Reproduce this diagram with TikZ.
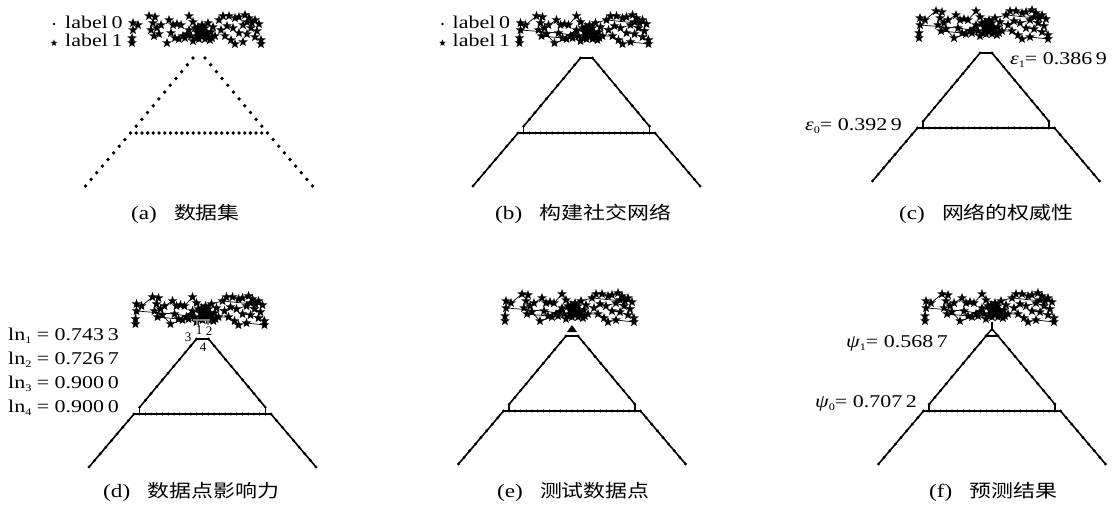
\documentclass[tikz,border=0pt]{standalone}
\usepackage{fontspec}
\setmainfont{Liberation Serif}
\newfontfamily\cjk{Noto Sans CJK SC}
\usepackage{graphicx}
\usetikzlibrary{calc}
\newcommand\hs[1]{\scalebox{1.22}[1]{#1}}
\newcommand\sbs[1]{\raisebox{-0.4ex}{\fontsize{10}{10}\selectfont #1}}
\newcommand\capt[2]{\hs{{\fontsize{19}{19}\selectfont(#1)}\hspace{14pt}{\cjk #2}}}
\newcommand\starpts{(-66,-35),(-66,-28),(-67,-20),(-67,-15),(-61,-33),
(-50,-42),(-44,-41),(-46,-35),(-42,-30),(-48,-28),(-38,-33),(-40,-24),(-45,-22),
(-30,-38),(-26,-33),(-22,-34),(-18,-33),(-28,-25),(-20,-19),(-32,-15),(-24,-20),
(-10,-42),(-6,-36),(-4,-30),(-2,-26),(0,-24),(2,-22),(4,-27),(6,-30),(8,-24),(10,-21),(-8,-22),(-12,-24),(-14,-20),(-16,-22),(0,-19),(6,-19),(12,-26),(14,-31),(3,-33),(9,-35),(-3,-20),(11,-18),(-6,-17),(16,-22),(2,-28),(-1,-31),(5,-23),(7,-26),(-10,-28),(13,-20),
(20,-38),(24,-42),(30,-42),(36,-40),(28,-32),(22,-28),(34,-30),(26,-22),(32,-18),(40,-41),(46,-43),(50,-40),(56,-38),(60,-34),(44,-33),(52,-30),(58,-27),(48,-24),(40,-25),(56,-21),(62,-18),(44,-16),(36,-14),(62,-14),(53,-35),(48,-36)}
\newcommand\starEdges{%
 \draw[sedge] (-66,-35)--(-66,-28)--(-67,-20)--(-67,-15);
 \draw[sedge] (-66,-28)--(-28,-25)--(-8,-22)--(0,-24);
 \draw[sedge] (-61,-33)--(-50,-42)--(-44,-41)--(-46,-35)--(-42,-30)--(-38,-33)--(-30,-38)--(-26,-33)--(-22,-34)--(-18,-33)--(-10,-42)--(-6,-36)--(3,-33)--(9,-35)--(20,-38)--(24,-42)--(30,-42)--(36,-40)--(40,-41)--(46,-43)--(50,-40)--(56,-38)--(60,-34);
 \draw[sedge] (-48,-28)--(-40,-24)--(-32,-15)--(-20,-19)--(-14,-20)--(-6,-17)--(0,-19)--(6,-19)--(11,-18)--(16,-22)--(26,-22)--(32,-18)--(36,-14)--(44,-16)--(62,-14);
 \draw[sedge] (-16,-22)--(-12,-24)--(-4,-30)--(-2,-26)--(2,-22)--(4,-27)--(6,-30)--(8,-24)--(10,-21)--(12,-26)--(14,-31)--(22,-28)--(28,-32)--(34,-30)--(44,-33)--(52,-30)--(58,-27)--(62,-18);
 \draw[sedge] (-3,-20)--(10,-21) (40,-25)--(48,-24)--(56,-21) (20,-38)--(60,-34) (-45,-22)--(-24,-20)--(-10,-28)--(7,-26);
}
\newcommand\stars{\foreach \p in \starpts {\pic at \p {fstar};}}
\newcommand\dataDots[1]{%
 \coordinate (AL) at (-6,0); \coordinate (AR) at (6,0);
 \coordinate (HL) at (-68.5,75); \coordinate (HR) at (68.5,75);
 \coordinate (BL) at (-113.5,128); \coordinate (BR) at (113.5,128);
 \foreach \i in {0,...,11}{\fill ($(AL)!\i/11!(HL)$) circle (#1); \fill ($(AR)!\i/11!(HR)$) circle (#1);}
 \foreach \i in {1,...,8}{\fill ($(HL)!\i/8!(BL)$) circle (#1); \fill ($(HR)!\i/8!(BR)$) circle (#1);}
 \foreach \i in {1,...,23}{\fill ($(HL)!\i/24!(HR)$) circle (#1);}
}
\newcommand\graphTri{%
 \dataDots{1.6}
 \draw[gedge] ($(AL)!10/11!(HL)$) coordinate (TL) -- (AL) -- (AR) -- ($(AR)!10/11!(HR)$) coordinate (TR);
 \draw[gedge] (TL) -- (TL|-HL); \draw[gedge] (TR) -- (TR|-HR);
 \draw[gedge] (BL) -- (HL) -- (HR) -- (BR);
 \starEdges
 \stars
}
\tikzset{
 fstar/.pic={\fill (270:5) -- (306:2.1) -- (342:5) -- (18:2.1) -- (54:5) -- (90:2.1) -- (126:5) -- (162:2.1) -- (198:5) -- (234:2.1) -- cycle;},
 txt/.style={font=\fontsize{18}{18}\selectfont, inner sep=0pt},
 smalllbl/.style={font=\fontsize{13}{13}\selectfont, inner sep=0pt},
 capnode/.style={font=\fontsize{18}{18}\selectfont, inner sep=0pt, anchor=west},
 gedge/.style={line width=1.6pt, line join=round},
 sedge/.style={line width=0.7pt},
}
\begin{document}
\begin{tikzpicture}[x=1pt,y=-1pt]
\useasboundingbox[fill=white] (0,0) rectangle (1115,518);
% (a)
\begin{scope}[shift={(199,58)}]
 \dataDots{1.9}
 \stars
 \fill (-145,-34) circle (1.4);
 \pic[scale=0.7] at (-145,-15) {fstar};
 \node[txt, anchor=base west] (la0) at (-134,-29) {\hs{label\,0}};
 \node[txt, anchor=base west] (la1) at (-134,-11) {\hs{label\,1}};
\end{scope}
% (b)
\begin{scope}[shift={(586.5,58)}]
 \graphTri
 \fill (-144,-34) circle (1.4);
 \pic[scale=0.7] at (-144,-15) {fstar};
 \node[txt, anchor=base west] (lb0) at (-134,-29) {\hs{label\,0}};
 \node[txt, anchor=base west] (lb1) at (-134,-11) {\hs{label\,1}};
\end{scope}
% (c)
\begin{scope}[shift={(986,53)}]
 \graphTri
\end{scope}
\node[txt, anchor=west] (eps1) at (1010,60) {\hs{{\itshape ε}\sbs{1}= 0.386\,9}};
\node[txt, anchor=west] (eps0) at (805,126) {\hs{{\itshape ε}\sbs{0}= 0.392\,9}};
% (d)
\begin{scope}[shift={(202.5,339)}]
 \graphTri
\end{scope}
\draw[gray, line width=1.2pt] (193,320) -- (210,320) (197,320) -- (197,325) (208,320) -- (208,325);
\node[smalllbl] (n1) at (199,330) {1};
\node[smalllbl] (n2) at (209,331) {2};
\node[smalllbl] (n3) at (188,337) {3};
\node[smalllbl] (n4) at (203,347) {4};
\node[txt, anchor=west] (ln1) at (8,336) {\hs{ln\sbs{1} = 0.743\,3}};
\node[txt, anchor=west] (ln2) at (8,360) {\hs{ln\sbs{2} = 0.726\,7}};
\node[txt, anchor=west] (ln3) at (8,384) {\hs{ln\sbs{3} = 0.900\,0}};
\node[txt, anchor=west] (ln4) at (8,408) {\hs{ln\sbs{4} = 0.900\,0}};
% (e)
\begin{scope}[shift={(572,336)}]
 \graphTri
 \fill (0,-11) -- (-5,-4) -- (5,-4) -- cycle;
\end{scope}
% (f)
\begin{scope}[shift={(992,336)}]
 \graphTri
 \coordinate (T) at (0,-7);
 \draw[gedge] (AL) -- (T) -- (AR);
 \draw[gedge] (T) -- (0,-14);
\end{scope}
\node[txt, anchor=west] (psi1) at (846,343) {\hs{{\itshape ψ}\sbs{1}= 0.568\,7}};
\node[txt, anchor=west] (psi0) at (815,403) {\hs{{\itshape ψ}\sbs{0}= 0.707\,2}};
% captions
\node[capnode] (ca) at (131,214) {\capt{a}{数据集}};
\node[capnode] (cb) at (495,214) {\capt{b}{构建社交网络}};
\node[capnode] (cc) at (899,214) {\capt{c}{网络的权威性}};
\node[capnode] (cd) at (103,492) {\capt{d}{数据点影响力}};
\node[capnode] (ce) at (497,492) {\capt{e}{测试数据点}};
\node[capnode] (cf) at (929,492) {\capt{f}{预测结果}};
\end{tikzpicture}
\end{document}
